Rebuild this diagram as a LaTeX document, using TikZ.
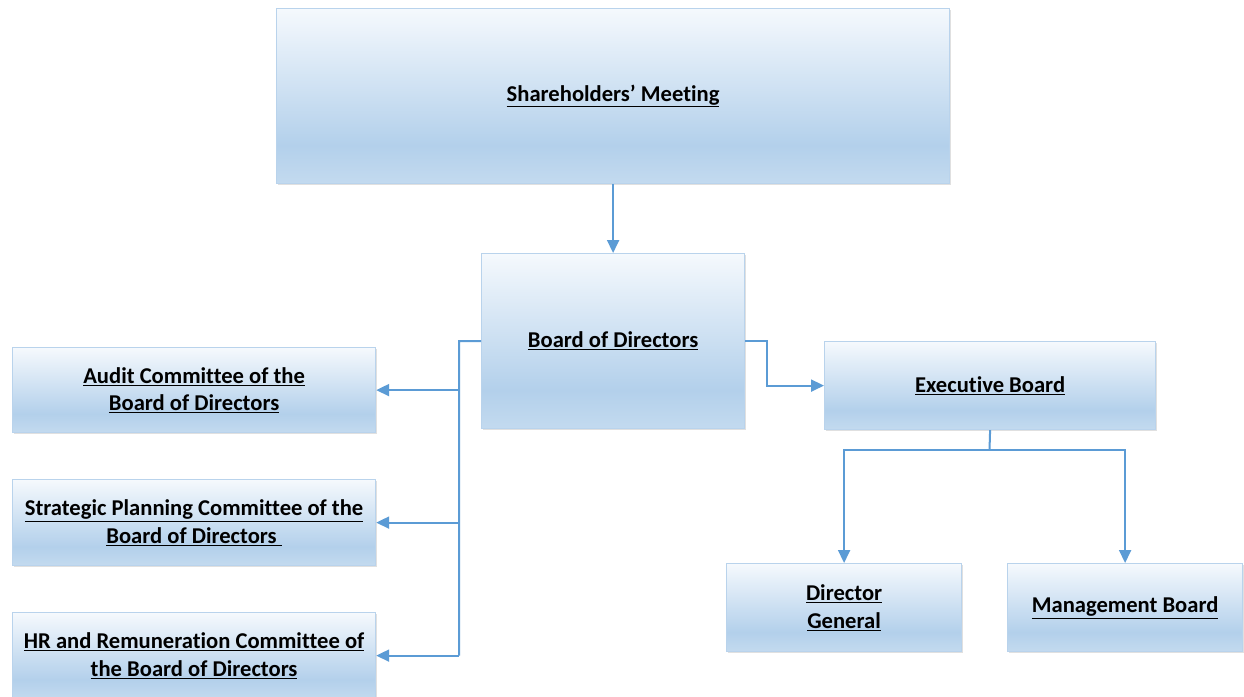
\documentclass[tikz,border=0pt]{standalone}
\usepackage{fontspec}
\setmainfont{Carlito}[Ligatures=NoCommon]
\usetikzlibrary{arrows.meta,shadows}
\definecolor{btop}{HTML}{F5F9FD}
\definecolor{bmid}{HTML}{B3D0EB}
\definecolor{bbot}{HTML}{C3DAEF}
\definecolor{bline}{HTML}{B9D3EC}
\definecolor{conn}{HTML}{5B9BD5}
\pgfdeclareverticalshading{boxshade}{100bp}{color(0bp)=(bbot); color(25bp)=(bbot); color(36bp)=(bmid); color(75bp)=(btop); color(100bp)=(btop)}
\tikzset{
  orgbox/.style={draw=bline, line width=1.2pt, shading=boxshade, anchor=north west, inner sep=0pt,
     align=center, font=\fontsize{22.6}{27.5}\selectfont\bfseries,
     drop shadow={shadow xshift=1.5pt, shadow yshift=-1.5pt, opacity=0.12, fill=black}},
  link/.style={draw=conn, line width=2pt},
  arr/.style={link, -{Triangle[length=13pt,width=12pt]}}
}
\newcommand{\ul}[1]{\underline{#1}}
\begin{document}
\begin{tikzpicture}[x=1pt,y=-1pt]
\clip (0,0) rectangle (1244,696);
\fill[white] (0,0) rectangle (1244,696);
\node[orgbox, minimum width=673pt, minimum height=175pt] (sh) at (276,8) {\ul{Shareholders’ Meeting}};
\node[orgbox, minimum width=263pt, minimum height=175pt] (bd) at (481,253) {\ul{Board of Directors}};
\node[orgbox, minimum width=363pt, minimum height=85pt] (au) at (12,347) {\ul{Audit Committee of the}\\\ul{Board of Directors}};
\node[orgbox, minimum width=363pt, minimum height=86pt] (sp) at (12,479) {\ul{Strategic Planning Committee of the}\\\ul{Board of Directors\ }};
\node[orgbox, minimum width=363pt, minimum height=86pt] (hr) at (12,612) {\ul{HR and Remuneration Committee of}\\\ul{the Board of Directors}};
\node[orgbox, minimum width=331pt, minimum height=88pt] (ex) at (824,341) {\ul{Executive Board}};
\node[orgbox, minimum width=235pt, minimum height=88pt] (dg) at (726,563) {\ul{Director}\\\ul{General}};
\node[orgbox, minimum width=235pt, minimum height=88pt] (mb) at (1007,563) {\ul{Management Board}};
\coordinate (lj) at (459,341);
\coordinate (ej) at (989.5,450);
\draw[arr] (sh.south) -- (bd.north);
\draw[link] (bd.west) -- (lj) -- (lj |- hr.east);
\draw[arr] (lj |- au.east) -- (au.east);
\draw[arr] (lj |- sp.east) -- (sp.east);
\draw[arr] (lj |- hr.east) -- (hr.east);
\draw[arr] (bd.east) -- ++(22,0) |- (ex.west);
\draw[link] (ex.south) -- (ej);
\draw[arr] (ej) -| (dg.north);
\draw[arr] (ej) -| (mb.north);
\end{tikzpicture}
\end{document}
